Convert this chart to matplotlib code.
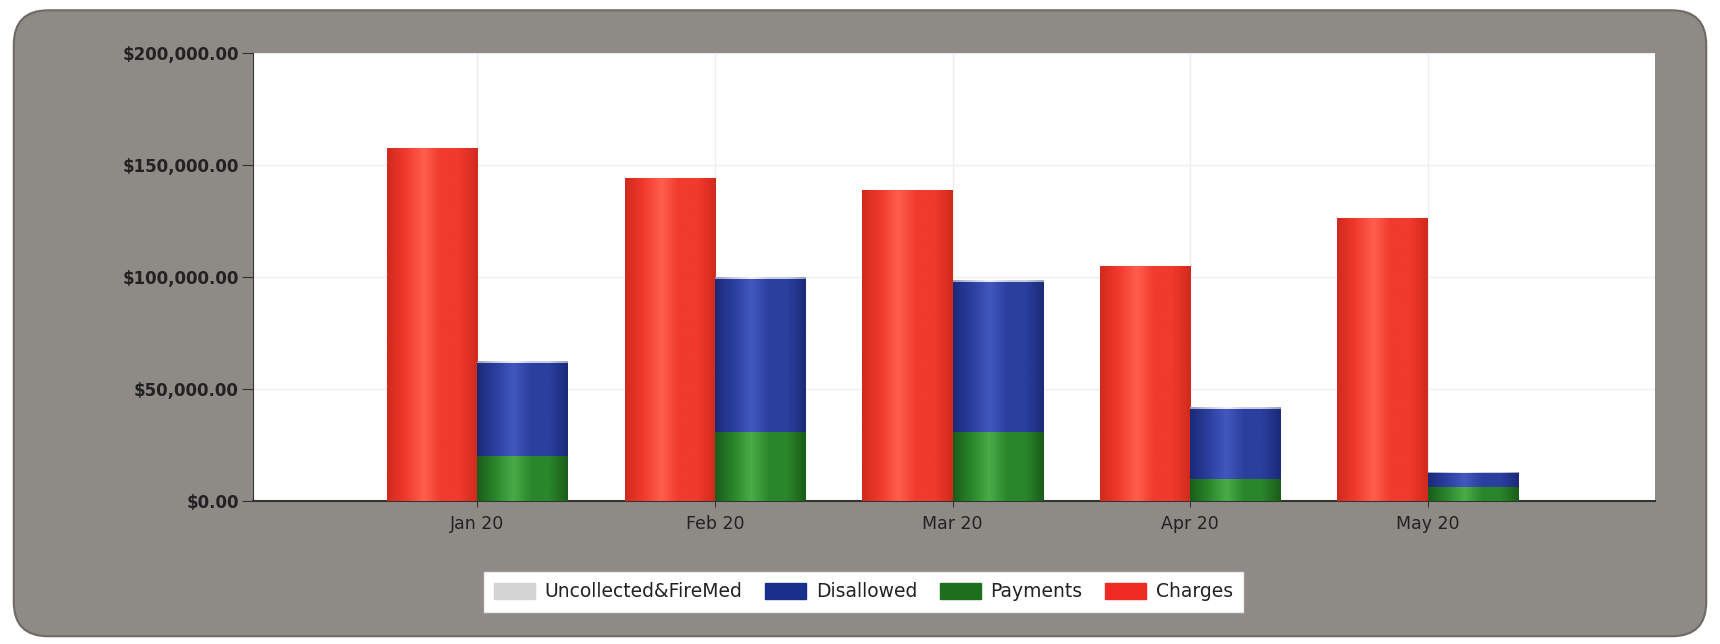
import numpy as np
import matplotlib
matplotlib.use("Agg")
import matplotlib.pyplot as plt
from matplotlib.patches import FancyBboxPatch, Rectangle
from matplotlib.colors import LinearSegmentedColormap
from matplotlib.ticker import FuncFormatter

months = ["Jan 20", "Feb 20", "Mar 20", "Apr 20", "May 20"]
charges = [157500, 144000, 138500, 104500, 126000]
payments = [20000, 31000, 30800, 9800, 6200]
disallowed = [41500, 68000, 67000, 31200, 6300]
uncollected = [600, 600, 600, 500, 300]

fig = plt.figure(figsize=(17.2, 6.44), dpi=100)
fig.patch.set_facecolor("white")

# rounded grey frame behind everything
frame = FancyBboxPatch((0.008, 0.012), 0.984, 0.972, boxstyle="round,pad=0,rounding_size=0.02",
                       transform=fig.transFigure, facecolor="#8e8a86", edgecolor="#6e6a66",
                       linewidth=1.5, mutation_aspect=17.2 / 6.44, zorder=-10)
fig.patches.append(frame)

ax = fig.add_axes([0.147, 0.222, 0.815, 0.696])
ax.set_facecolor("white")
x = np.arange(len(months))
w = 0.38


def shade(c_dark, c_mid, c_light):
    return LinearSegmentedColormap.from_list("s", [c_dark, c_mid, c_light, c_mid, c_mid, c_dark])


def gradient_bars(bars, cmap):
    g = np.linspace(0, 1, 64).reshape(1, -1)
    for b in bars:
        x0, y0 = b.get_x(), b.get_y()
        ax.imshow(g, cmap=cmap, aspect="auto", zorder=3,
                  extent=(x0, x0 + b.get_width(), y0, y0 + b.get_height()))


red = ax.bar(x - w / 2, charges, w, color="#ee3a2c", zorder=2)
grn = ax.bar(x + w / 2, payments, w, color="#2e8a2e", zorder=2)
blu = ax.bar(x + w / 2, disallowed, w, bottom=payments, color="#2a3d9c", zorder=2)
tops = [p + d for p, d in zip(payments, disallowed)]
gry = ax.bar(x + w / 2, uncollected, w, bottom=tops, color="#c8c8d8", zorder=2)

gradient_bars(red, shade("#d22a1e", "#f03a2c", "#ff5e4e"))
gradient_bars(grn, shade("#1a5e1a", "#2a862a", "#48ac48"))
gradient_bars(blu, shade("#1c2a7a", "#2a3f9e", "#4258be"))
gradient_bars(gry, shade("#9aa0c0", "#c8cce0", "#eef0ff"))

ax.set_xlim(-0.945, 4.955)
ax.set_ylim(0, 200000)
ax.set_xticks(x)
ax.set_xticklabels(months)
ax.set_yticks(np.arange(0, 200001, 50000))
ax.yaxis.set_major_formatter(FuncFormatter(lambda v, p: f"${v:,.2f}"))
ax.grid(True, color="#eeeeee", linewidth=1, zorder=0)
ax.set_axisbelow(True)
for s in ["top", "right"]:
    ax.spines[s].set_visible(False)
ax.spines["left"].set_color("#333333")
ax.spines["bottom"].set_color("#333333")
ax.spines["bottom"].set_linewidth(1.5)
ax.tick_params(axis="y", length=8, color="#333333", labelsize=12, labelcolor="#222222", pad=2)
ax.tick_params(axis="x", length=4, color="#333333", labelsize=12.5, labelcolor="#222222", pad=6)
for t in ax.get_yticklabels():
    t.set_fontweight("bold")

handles = [Rectangle((0, 0), 1, 1, color=c) for c in ["#d4d4d4", "#1a2f8c", "#1d6e1d", "#ee2a22"]]
leg = fig.legend(handles, ["Uncollected&FireMed", "Disallowed", "Payments", "Charges"],
                 loc="center", bbox_to_anchor=(0.502, 0.081), ncol=4, fontsize=13.5,
                 frameon=True, fancybox=False, framealpha=1, handlelength=2.2, handleheight=1.0,
                 columnspacing=1.2, handletextpad=0.5, borderpad=0.6)
leg.get_frame().set_facecolor("white")
leg.get_frame().set_edgecolor("#999999")
for t in leg.get_texts():
    t.set_color("#222222")

fig.savefig("out.png", dpi=100)
